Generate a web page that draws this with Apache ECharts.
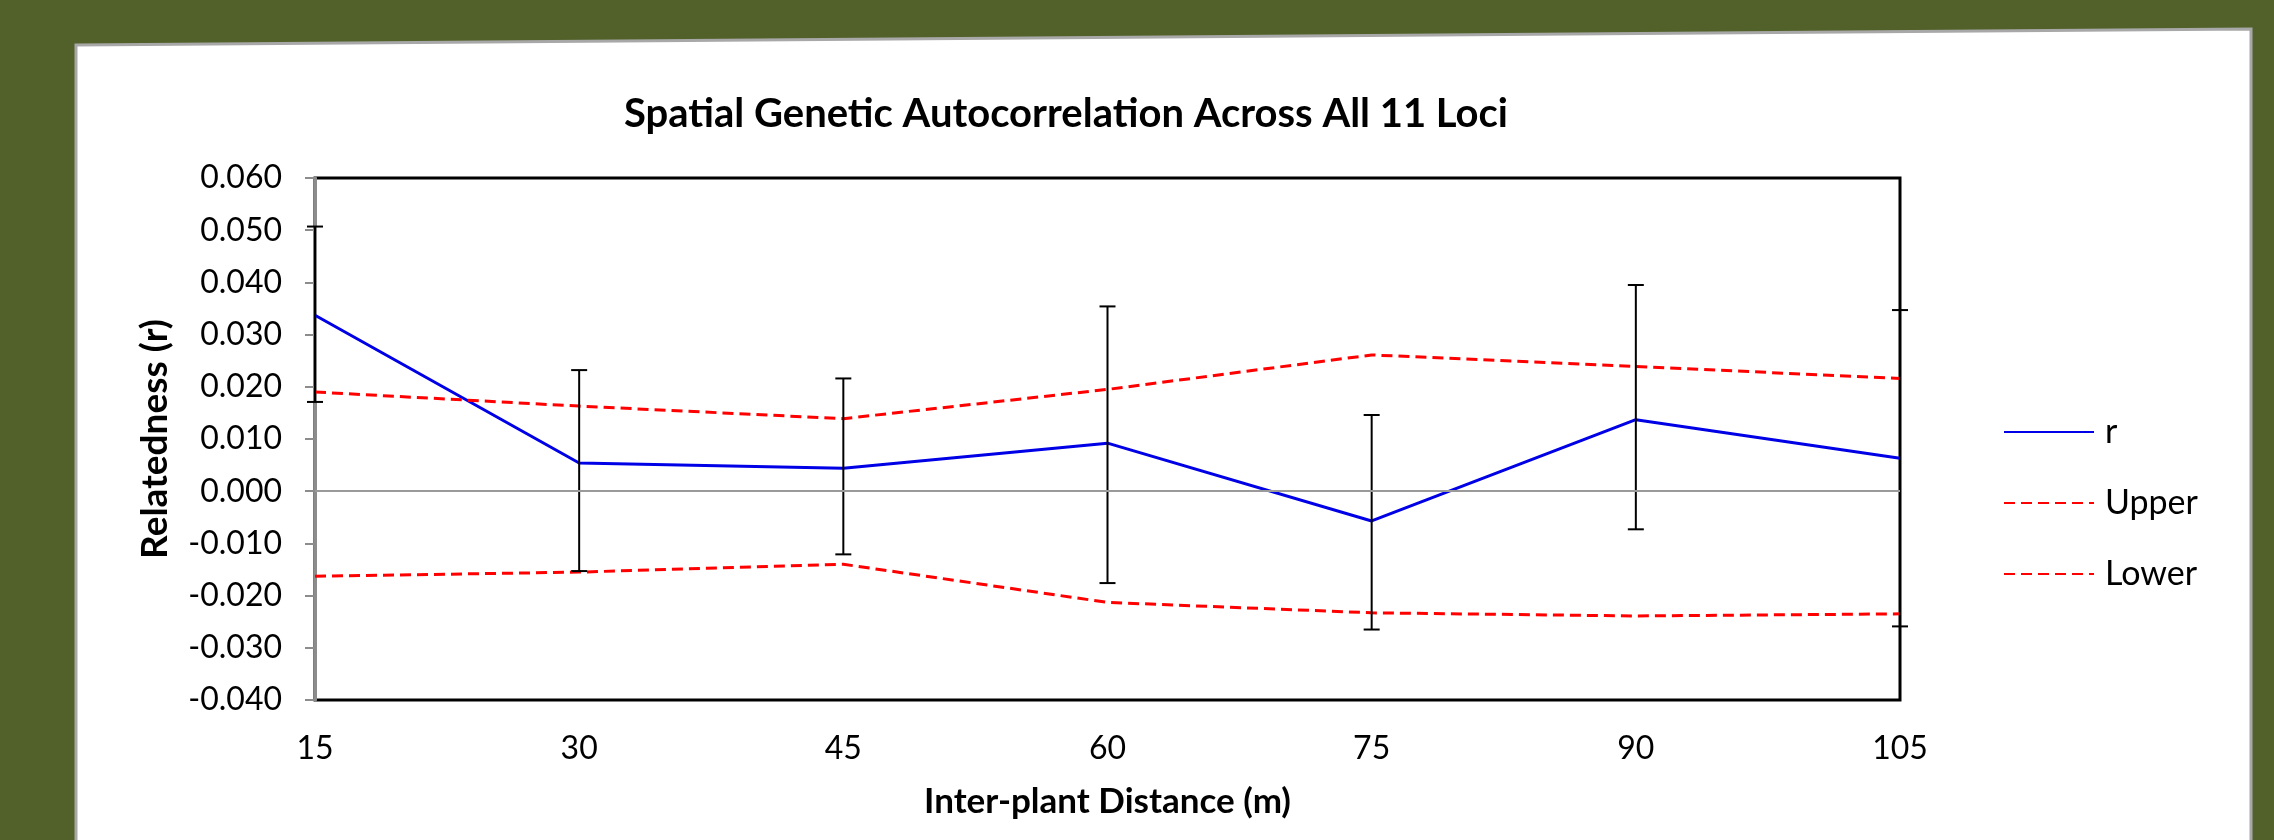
<!DOCTYPE html>
<html>
<head>
<meta charset="utf-8">
<script src="https://cdn.jsdelivr.net/npm/echarts@6/dist/echarts.min.js"></script>
<style>
  html, body { margin: 0; padding: 0; background: #52612a; }
  #chart { width: 2274px; height: 840px; }
</style>
</head>
<body>
<div id="chart"></div>
<script>
// ---- data ----
const distances   = [15, 30, 45, 60, 75, 90, 105];
const rValues     = [0.0337, 0.0054, 0.0044, 0.0092, -0.0057, 0.0137, 0.0063];
const upperValues = [0.0190, 0.0163, 0.0139, 0.0195, 0.0261, 0.0239, 0.0216];
const lowerValues = [-0.0163, -0.0155, -0.0140, -0.0213, -0.0233, -0.0239, -0.0235];
const errHigh     = [0.0507, 0.0232, 0.0216, 0.0354, 0.0146, 0.0395, 0.0347];
const errLow      = [0.0171, -0.0153, -0.0121, -0.0176, -0.0265, -0.0073, -0.0259];
const seriesNames = ['r', 'Upper', 'Lower'];
const titleText   = 'Spatial Genetic Autocorrelation Across All 11 Loci';
const xAxisTitle  = 'Inter-plant Distance (m)';
const yAxisTitle  = 'Relatedness (r)';

const FONT = 'Lato, "Open Sans", sans-serif';

const pair = (vals) => distances.map((d, i) => [d, vals[i]]);
const errData = distances.map((d, i) => [d, errLow[i], errHigh[i]]);

const chart = echarts.init(document.getElementById('chart'));

chart.setOption({
  backgroundColor: 'transparent',
  animation: false,
  graphic: [{
    type: 'polygon',
    z: -10,
    silent: true,
    shape: { points: [[76, 45], [2251, 29], [2251, 845], [76, 845]] },
    style: { fill: '#ffffff', stroke: '#a8a8a8', lineWidth: 3 }
  }],
  title: {
    text: titleText,
    left: 1061,
    top: 89,
    textAlign: 'center',
    textStyle: { fontFamily: FONT, fontWeight: 'bold', fontSize: 40, color: '#000' }
  },
  legend: {
    orient: 'vertical',
    left: 1998,
    top: 410,
    itemWidth: 90,
    itemHeight: 30,
    itemGap: 37,
    data: seriesNames,
    itemStyle: { opacity: 0 },
    textStyle: { fontFamily: FONT, fontSize: 34, color: '#000', lineHeight: 30, padding: [4, 0, 0, 6] }
  },
  grid: {
    left: 315,
    right: 374,
    top: 178,
    bottom: 140,
    show: true,
    borderColor: '#000',
    borderWidth: 3,
    backgroundColor: 'transparent'
  },
  xAxis: {
    type: 'value',
    min: 15,
    max: 105,
    interval: 15,
    name: xAxisTitle,
    nameLocation: 'middle',
    nameGap: 84,
    nameTextStyle: { fontFamily: FONT, fontWeight: 'bold', fontSize: 35, color: '#000' },
    axisLine: { show: false, onZero: false },
    axisTick: { show: false },
    splitLine: { show: false },
    axisLabel: { fontFamily: FONT, fontSize: 32, color: '#000', margin: 33 }
  },
  yAxis: {
    type: 'value',
    min: -0.04,
    max: 0.06,
    interval: 0.01,
    name: yAxisTitle,
    nameLocation: 'middle',
    nameRotate: 90,
    nameGap: 141,
    nameTextStyle: { fontFamily: FONT, fontWeight: 'bold', fontSize: 37, color: '#000' },
    axisLine: { show: true, lineStyle: { color: '#8c8c8c', width: 3 } },
    axisTick: { show: true, inside: false, length: 10, lineStyle: { color: '#8c8c8c', width: 2 } },
    splitLine: { show: false },
    axisLabel: {
      fontFamily: FONT, fontSize: 32, color: '#000', margin: 33,
      formatter: (v) => v.toFixed(3)
    }
  },
  series: [
    {
      name: 'r',
      type: 'line',
      data: pair(rValues),
      symbol: 'none',
      lineStyle: { color: '#0000e6', width: 3 },
      itemStyle: { color: '#0000e6' },
      z: 3,
      markLine: {
        silent: true,
        symbol: 'none',
        label: { show: false },
        lineStyle: { color: '#9a9a9a', type: 'solid', width: 2 },
        data: [{ yAxis: 0 }]
      }
    },
    {
      name: 'Upper',
      type: 'line',
      data: pair(upperValues),
      symbol: 'none',
      lineStyle: { color: '#ff0000', width: 3, type: [11, 6] },
      itemStyle: { color: '#ff0000' },
      z: 3
    },
    {
      name: 'Lower',
      type: 'line',
      data: pair(lowerValues),
      symbol: 'none',
      lineStyle: { color: '#ff0000', width: 3, type: [11, 6] },
      itemStyle: { color: '#ff0000' },
      z: 3
    },
    {
      name: 'error',
      type: 'custom',
      data: errData,
      encode: { x: 0, y: [1, 2] },
      z: 4,
      silent: true,
      renderItem: function (params, api) {
        const x = api.value(0);
        const lo = api.coord([x, api.value(1)]);
        const hi = api.coord([x, api.value(2)]);
        const cap = 8;
        const style = { stroke: '#000', lineWidth: 2 };
        return {
          type: 'group',
          children: [
            { type: 'line', shape: { x1: hi[0], y1: hi[1], x2: lo[0], y2: lo[1] }, style: style },
            { type: 'line', shape: { x1: hi[0] - cap, y1: hi[1], x2: hi[0] + cap, y2: hi[1] }, style: style },
            { type: 'line', shape: { x1: lo[0] - cap, y1: lo[1], x2: lo[0] + cap, y2: lo[1] }, style: style }
          ]
        };
      }
    }
  ]
});
</script>
</body>
</html>
